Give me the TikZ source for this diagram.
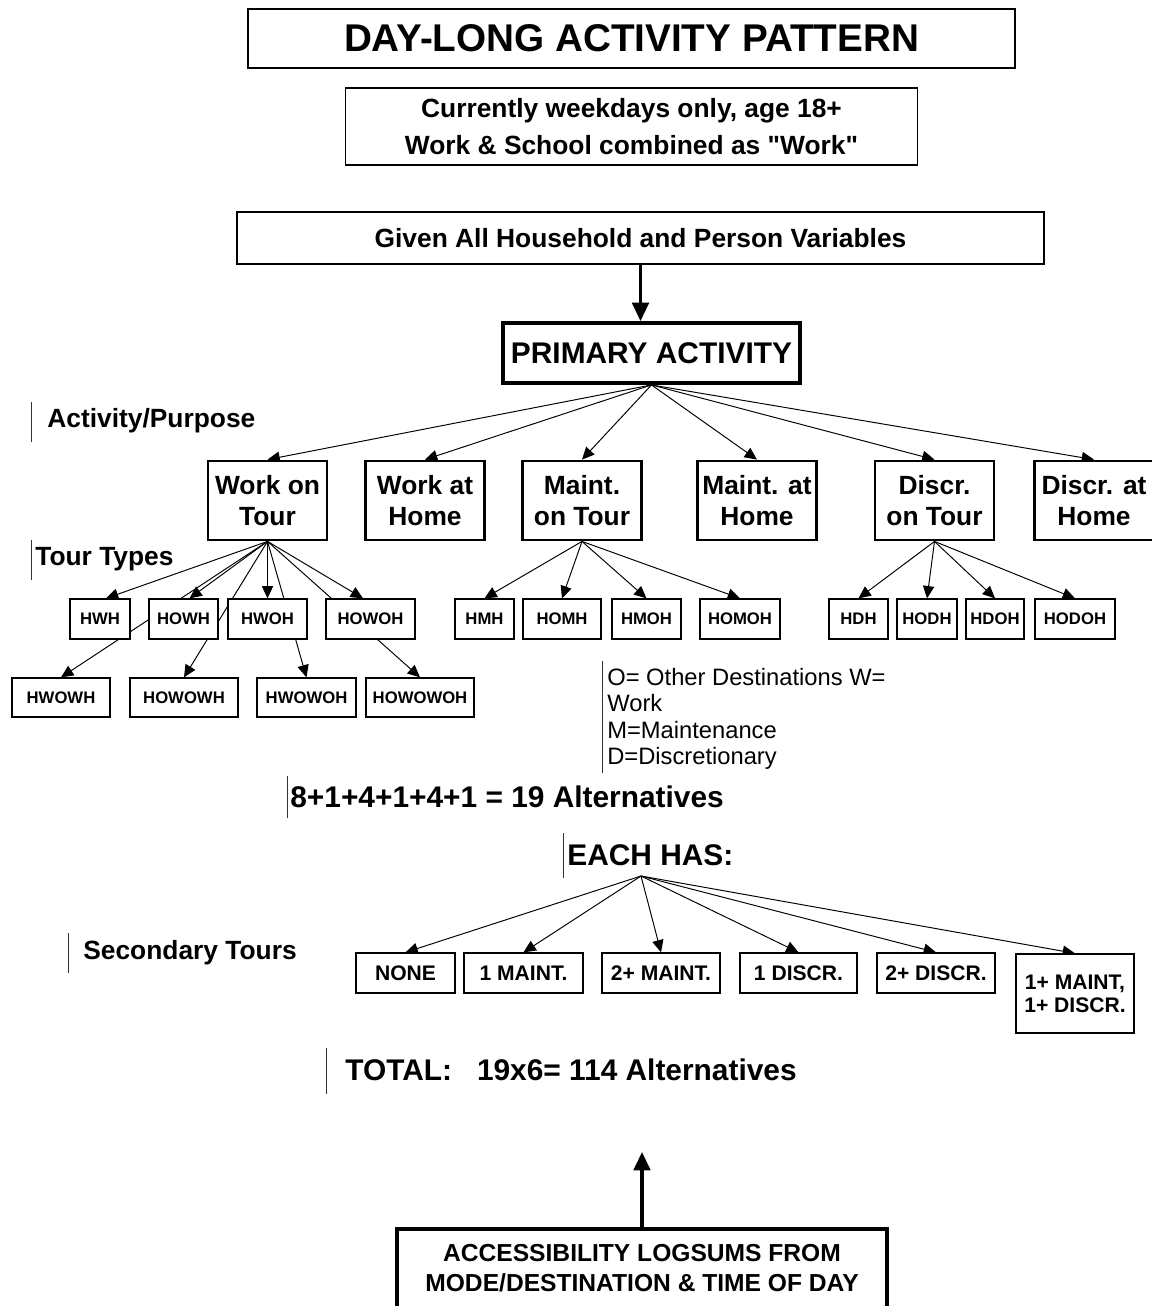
\documentclass[tikz,border=0pt]{standalone}
\usepackage{fontspec}
\setmainfont{Liberation Sans}
\usetikzlibrary{positioning}
\usetikzlibrary{calc}
\usetikzlibrary{arrows.meta,backgrounds}

\tikzset{
  thinbox/.style={draw, line width=0.75pt, fill=white, inner sep=0pt, align=center},
  thickbox/.style={draw, line width=1.6pt, fill=white, inner sep=0pt, align=center,
    minimum width=2.38cm, minimum height=1.58cm, font=\fontsize{15}{18}\selectfont\bfseries},
  tourbox/.style={thinbox, minimum height=0.8cm, font=\fontsize{9.5}{11}\selectfont\bfseries},
  secbox/.style={thinbox, minimum height=0.8cm, font=\fontsize{12}{13}\selectfont\bfseries},
  lbl/.style={anchor=west, inner sep=0pt, font=\fontsize{15}{18}\selectfont\bfseries},
  biglbl/.style={anchor=west, inner sep=0pt, font=\fontsize{17}{20}\selectfont\bfseries},
  bar/.style={line width=0.5pt, black!80},
  tip/.style={-{Triangle[length=7pt,width=6.4pt]}, line width=0.55pt},
  bigtip/.style={-{Triangle[length=10.5pt,width=9.5pt]}, line width=1.8pt}
}

\begin{document}
\begin{tikzpicture}
\useasboundingbox (0,0) rectangle (23.04,-26.12);

\node[thinbox, minimum width=15.34cm, minimum height=1.18cm, font=\fontsize{22}{26}\selectfont\bfseries](title) at (12.63,-0.77){DAY-LONG ACTIVITY PATTERN};
\node[thinbox, minimum width=11.44cm, minimum height=1.54cm, font=\fontsize{15}{21}\selectfont\bfseries](limits) at (12.63,-2.53){Currently weekdays only, age 18+\\Work \& School combined as \textquotedbl Work\textquotedbl};
\node[thinbox, minimum width=16.14cm, minimum height=1.04cm, font=\fontsize{15}{18}\selectfont\bfseries](given) at (12.81,-4.76){Given All Household and Person Variables};
\node[thickbox, line width=2.2pt, minimum width=5.94cm, minimum height=1.2cm, font=\fontsize{17}{20}\selectfont\bfseries](primary) at (13.03,-7.06){PRIMARY ACTIVITY};

\node[thickbox](wot) at (5.35,-10.01){Work on\\Tour};
\node[thickbox](wah) at (8.5,-10.01){Work at\\Home};
\node[thickbox](mot) at (11.64,-10.01){Maint.\\on Tour};
\node[thickbox](mah) at (15.14,-10.01){Maint. at\\Home};
\node[thickbox](dot) at (18.69,-10.01){Discr.\\on Tour};
\node[thickbox](dah) at (21.88,-10.01){Discr. at\\Home};

\node[tourbox, minimum width=1.2cm](hwh) at (2.0,-12.38){HWH};
\node[tourbox, minimum width=1.38cm](howh) at (3.67,-12.38){HOWH};
\node[tourbox, minimum width=1.58cm](hwoh) at (5.35,-12.38){HWOH};
\node[tourbox, minimum width=1.78cm](howoh) at (7.41,-12.38){HOWOH};
\node[tourbox, minimum width=1.18cm](hmh) at (9.69,-12.38){HMH};
\node[tourbox, minimum width=1.56cm](homh) at (11.24,-12.38){HOMH};
\node[tourbox, minimum width=1.38cm](hmoh) at (12.93,-12.38){HMOH};
\node[tourbox, minimum width=1.6cm](homoh) at (14.8,-12.38){HOMOH};
\node[tourbox, minimum width=1.18cm](hdh) at (17.17,-12.38){HDH};
\node[tourbox, minimum width=1.2cm](hodh) at (18.54,-12.38){HODH};
\node[tourbox, minimum width=1.16cm](hdoh) at (19.9,-12.38){HDOH};
\node[tourbox, minimum width=1.6cm](hodoh) at (21.5,-12.38){HODOH};

\node[tourbox, minimum width=1.96cm, minimum height=0.78cm](hwowh) at (1.22,-13.95){HWOWH};
\node[tourbox, minimum width=2.16cm, minimum height=0.78cm](howowh) at (3.68,-13.95){HOWOWH};
\node[tourbox, minimum width=1.98cm, minimum height=0.78cm](hwowoh) at (6.13,-13.95){HWOWOH};
\node[tourbox, minimum width=2.16cm, minimum height=0.78cm](howowoh) at (8.4,-13.95){HOWOWOH};

\node[lbl](actlbl) at (0.94,-8.42){Activity/Purpose};
\node[lbl](tourlbl) at (0.7,-11.18){Tour Types};
\node[anchor=west, align=left, inner sep=0pt, font=\fontsize{13.5}{15.1}\selectfont](legend) at (12.14,-14.38){O= Other Destinations W=\\Work\\M=Maintenance\\D=Discretionary};
\node[biglbl](alts) at (5.8,-15.94){8+1+4+1+4+1 = 19 Alternatives};
\node[biglbl](eachhas) at (11.34,-17.1){EACH HAS:};
\node[lbl](seclbl) at (1.66,-19.06){Secondary Tours};
\node[biglbl](total) at (6.9,-21.4){TOTAL:~~~19x6= 114 Alternatives};

\draw[bar] (0.62,-8.04) -- (0.62,-8.84);
\draw[bar] (0.62,-10.8) -- (0.62,-11.6);
\draw[bar] (12.04,-13.22) -- (12.04,-15.46);
\draw[bar] (5.74,-15.52) -- (5.74,-16.36);
\draw[bar] (11.26,-16.66) -- (11.26,-17.56);
\draw[bar] (1.36,-18.66) -- (1.36,-19.46);
\draw[bar] (6.52,-20.96) -- (6.52,-21.88);

\coordinate (hub) at (12.82,-17.52);
\node[secbox, minimum width=1.98cm](none) at (8.11,-19.46){NONE};
\node[secbox, minimum width=2.38cm](m1) at (10.47,-19.46){1 MAINT.};
\node[secbox, minimum width=2.36cm](m2) at (13.22,-19.46){2+ MAINT.};
\node[secbox, minimum width=2.34cm](d1) at (15.97,-19.46){1 DISCR.};
\node[secbox, minimum width=2.36cm](d2) at (18.72,-19.46){2+ DISCR.};
\node[secbox, minimum width=2.36cm, minimum height=1.58cm](md) at (21.5,-19.87){1+ MAINT,\\1+ DISCR.};

\node[thickbox, line width=2.2pt, minimum width=9.8cm, minimum height=1.58cm, font=\fontsize{14}{17}\selectfont\bfseries](acc) at (12.84,-25.37){ACCESSIBILITY LOGSUMS FROM\\MODE/DESTINATION \& TIME OF DAY};
\coordinate (logtip) at (12.84,-23.04);

\draw[bigtip] (given.south) -- (given.south |- primary.north);
\draw[bigtip] (acc.north) -- (logtip);

\begin{scope}[on background layer]
\path
(primary.south) edge[tip]node{} (wot.north)
(primary.south) edge[tip]node{} (wah.north)
(primary.south) edge[tip]node{} (mot.north)
(primary.south) edge[tip]node{} (mah.north)
(primary.south) edge[tip]node{} (dot.north)
(primary.south) edge[tip]node{} (dah.north)
(wot.south) edge[tip]node{} ([xshift=0.12cm]hwh.north)
(wot.south) edge[tip]node{} ([xshift=0.12cm]howh.north)
(wot.south) edge[tip]node{} (hwoh.north)
(wot.south) edge[tip]node{} ([xshift=-0.15cm]howoh.north)
(wot.south) edge[tip]node{} (hwowh.north)
(wot.south) edge[tip]node{} (howowh.north)
(wot.south) edge[tip]node{} (hwowoh.north)
(wot.south) edge[tip]node{} (howowoh.north)
(mot.south) edge[tip]node{} (hmh.north)
(mot.south) edge[tip]node{} (homh.north)
(mot.south) edge[tip]node{} (hmoh.north)
(mot.south) edge[tip]node{} (homoh.north)
(dot.south) edge[tip]node{} (hdh.north)
(dot.south) edge[tip]node{} (hodh.north)
(dot.south) edge[tip]node{} (hdoh.north)
(dot.south) edge[tip]node{} (hodoh.north)
(hub) edge[tip]node{} (none.north)
(hub) edge[tip]node{} (m1.north)
(hub) edge[tip]node{} (m2.north)
(hub) edge[tip]node{} (d1.north)
(hub) edge[tip]node{} (d2.north)
(hub) edge[tip]node{} (md.north);
\end{scope}
\end{tikzpicture}
\end{document}
